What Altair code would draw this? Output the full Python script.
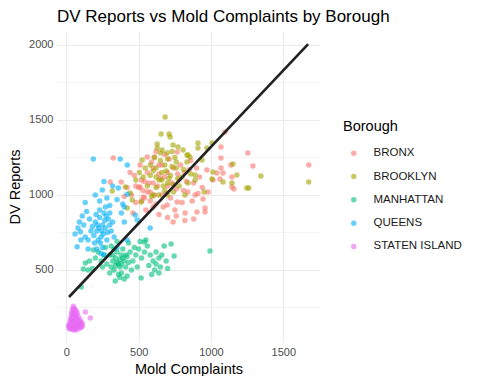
import altair as alt
import pandas as pd

boroughs = ["BRONX", "BROOKLYN", "MANHATTAN", "QUEENS", "STATEN ISLAND"]
colors = ["#F8766D", "#A3A500", "#00BF7D", "#00B0F6", "#E76BF3"]

bronx_pts = [
    (1676,1200),(1255,1280),(1290,1193),(1069,1320),(1097,1420),(1069,1247),(1083,1147),(1145,1120),
    (1062,1107),(1145,1053),(1159,1040),(945,973),(959,913),(959,887),(324,1247),(303,1087),(379,1087),
    (738,820),(821,880),(903,887),(1138,1200),(1069,1180),(559,1253),(607,1253),(766,1287),(972,1167),
    (1014,1100),(1041,1147),(697,933),(766,953),(510,1053),(531,987),(600,920),
    (450,1000),(480,950),(500,1050),(520,1100),(540,980),(560,1150),(580,1020),(600,1080),(620,940),
    (640,1200),(660,1000),(680,1120),(700,1060),(720,980),(740,1180),(760,1040),(780,1100),(800,950),
    (820,1150),(840,1020),(860,1230),(880,1080),(900,1180),(920,1120),(940,1050),(470,1130),(510,1200),
    (550,900),(590,1220),(630,1060),(670,920),(710,1240),(750,900),(790,1200),(830,1090),(870,960),
    (910,1010),(460,880),(440,1150),(420,1050),(400,990),(530,1030),(570,1080),(610,1000),(650,1110),
    (690,1010),(730,1080),(770,1140),(810,1030),(850,1170),(890,1000),(620,1290),(680,1270),(560,1020),
    (580,960),(640,1140),(700,1150),(480,1060),(520,960),(600,1180),(660,1200),(540,1090),
    (640,870),(700,850),(760,860),(820,830),(880,840),(980,1020),
]

brooklyn_pts = [
    (683,1520),(655,1407),(710,1407),(717,1387),(628,1340),(628,1313),(662,1300),(697,1280),(738,1333),
    (772,1320),(807,1300),(834,1267),(855,1253),(910,1347),(910,1313),(938,1233),(972,1313),(1007,1347),
    (841,1267),(834,1220),(1152,1207),(1179,1133),(1345,1127),(1083,1087),(1014,1153),(1007,1107),
    (952,1020),(1262,1047),(1248,1047),(1145,1080),(890,1133),(890,1100),(1676,1087),(524,1233),
    (531,1120),(407,1053),(441,1013),(455,967),(421,913),(317,1027),(517,953),
    (600,1000),(620,1050),(640,1100),(660,1150),(680,1200),(700,1080),(720,1130),(740,1020),(760,1180),
    (780,1060),(800,1120),(820,1000),(840,1080),(860,1140),(620,1180),(650,1230),(700,1240),(750,1250),
    (580,1130),(560,1060),(590,990),(640,1000),(670,1060),(690,1160),(730,1190),(770,1110),(810,1170),
    (580,1200),(610,1250),(650,1280),(730,1290),(760,1220),(700,1000),(660,1100),(620,1120),(600,1160),
    (680,1030),(710,1110),(740,1070),(545,1180),(505,1150),(480,1100),
]

manhattan_pts = [
    (131,547),(117,507),(103,387),(186,633),(338,427),(517,447),(538,687),(676,660),(724,673),(745,593),
    (993,627),(300,600),(320,560),(340,580),(360,540),(380,600),(400,560),(350,620),(310,520),(330,500),
    (370,520),(390,640),(420,590),(440,620),(460,560),(480,600),(500,640),(520,580),(540,620),(560,660),
    (580,600),(600,560),(620,540),(640,580),(650,520),(610,500),(570,530),(550,700),(510,690),(470,650),
    (430,680),(410,520),(450,500),(490,520),(360,470),(300,480),(280,540),(260,600),(240,560),(270,650),
    (310,660),(350,690),(330,640),(380,480),(420,460),(400,440),(370,450),(250,520),(200,580),(220,620),
    (160,560),(150,500),(180,510),(620,620),(660,600),(690,560),(700,510),(640,480),(590,470),(350,550),
    (370,570),(390,580),(340,530),(410,600),(430,550),(320,600),(380,540),
]

queens_pts = [
    (186,1240),(372,1240),(421,1200),(248,1033),(359,1047),(320,1060),(280,980),(230,960),(200,1000),
    (350,970),(300,930),(400,920),(420,1005),(260,1090),
    (250,800),(230,850),(270,780),(210,760),(290,840),(240,720),(260,880),(200,820),(310,760),(180,790),
    (220,700),(280,700),(300,880),(250,650),(190,730),(230,900),(270,920),(320,820),(160,840),(215,800),
    (245,760),(265,830),(205,870),(285,750),(235,680),(255,740),(195,680),(275,860),(225,780),(300,800),
    (170,760),(330,720),(240,610),(260,600),(210,640),(150,700),
    (74,655),(97,755),(120,800),(130,720),(110,860),(90,820),(140,890),(60,740),(100,700),(150,640),
    (130,950),(80,780),(579,780),(476,867),(490,833),(400,820),(380,880),(420,700),(350,650),(390,940),
]

staten_pts = [
    (48,258),(52,245),(44,240),(58,235),(40,225),(55,222),(62,215),(35,210),(47,205),(70,200),
    (38,195),(52,192),(65,190),(30,180),(45,178),(58,176),(75,170),(28,165),(42,162),(60,160),
    (80,158),(25,150),(50,148),(68,145),(85,142),(22,135),(38,132),(55,130),(72,128),(95,140),
    (20,120),(33,118),(48,115),(63,118),(78,122),(100,150),(30,105),(45,110),(60,108),(110,145),
    (131,220),(165,180),(40,170),(55,185),(70,175),(88,160),(105,130),(90,125),(15,130),(18,110),
    (65,232),(75,215),(82,190),(95,170),(85,110),(100,115),(110,125),(68,100),(50,100),(35,140),
]

line_x = [18, 1672]
line_y = [320, 2005]

rows = []
for name, pts in zip(boroughs, [bronx_pts, brooklyn_pts, manhattan_pts, queens_pts, staten_pts]):
    for x, y in pts:
        rows.append({"Mold": x, "DV": y, "Borough": name})
df = pd.DataFrame(rows)
line_df = pd.DataFrame({"Mold": line_x, "DV": line_y})

xvals = [0, 250, 500, 750, 1000, 1250, 1500, 1750]
yvals = [250, 500, 750, 1000, 1250, 1500, 1750, 2000]
label_expr = "datum.value % 500 == 0 ? datum.label : ''"
grid_w = {"condition": {"test": "datum.value % 500 == 0", "value": 1.1}, "value": 0.55}

x_enc = alt.X("Mold:Q", title="Mold Complaints",
              scale=alt.Scale(domain=[-65, 1754], nice=False, zero=False),
              axis=alt.Axis(values=xvals, format="d", labelExpr=label_expr, gridWidth=grid_w,
                            labelPadding=4, titlePadding=5))
y_enc = alt.Y("DV:Q", title="DV Reports",
              scale=alt.Scale(domain=[20, 2093], nice=False, zero=False),
              axis=alt.Axis(values=yvals, format="d", labelExpr=label_expr, gridWidth=grid_w,
                            labelPadding=4, titlePadding=6))

points = alt.Chart(df).mark_circle(size=30, opacity=0.6).encode(
    x=x_enc, y=y_enc,
    color=alt.Color("Borough:N",
                    scale=alt.Scale(domain=boroughs, range=colors),
                    legend=alt.Legend(orient="none", legendX=286, legendY=89,
                                      title="Borough", titleFontSize=14.5,
                                      titleFontWeight="normal", titleColor="#000000",
                                      labelFontSize=11.5, labelColor="#1a1a1a",
                                      symbolSize=30, symbolOffset=5, labelOffset=14,
                                      rowPadding=10.3, titlePadding=13,
                                      symbolOpacity=0.6, symbolType="circle",
                                      symbolStrokeWidth=0)),
)

line = alt.Chart(line_df).mark_line(color="#222222", strokeWidth=2.6).encode(
    x=alt.X("Mold:Q"), y=alt.Y("DV:Q"))

chart = alt.layer(points, line).properties(
    width=263, height=311,
    title=alt.TitleParams("DV Reports vs Mold Complaints by Borough", anchor="start",
                          frame="group", fontSize=17, fontWeight="normal",
                          color="#000000", offset=5),
    autosize=alt.AutoSizeParams(type="none"),
    padding={"left": 49, "top": 23, "right": 150, "bottom": 34},
).configure(
    font="Liberation Sans",
).configure_view(
    stroke=None,
).configure_axis(
    domain=False, ticks=False, gridColor="#EBEBEB",
    labelFontSize=11, labelColor="#4D4D4D",
    titleFontSize=14.5, titleFontWeight="normal", titleColor="#000000",
)

chart.save("out.html", embed_options={"renderer": "svg", "actions": False})
